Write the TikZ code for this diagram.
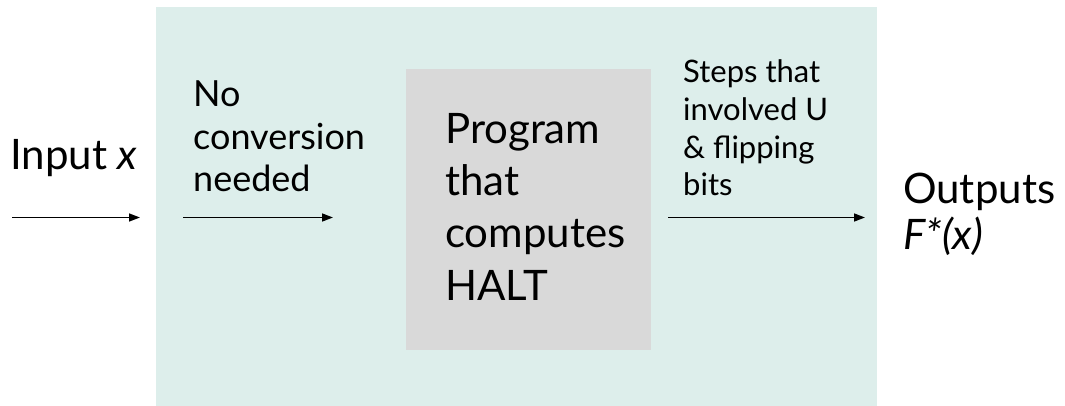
\documentclass[tikz,border=0pt]{standalone}
\usepackage{fontspec}
\setmainfont{Lato}
\usetikzlibrary{arrows.meta}
\definecolor{tealbg}{RGB}{221,238,235}
\definecolor{graybox}{RGB}{217,217,217}
\tikzset{
  big/.style={font=\fontsize{42}{52.3}\selectfont, inner sep=0pt, align=left, anchor=base west},
  bigout/.style={font=\fontsize{42}{46.5}\selectfont, inner sep=0pt, align=left, anchor=base west},
  mid/.style={font=\fontsize{36}{42.5}\selectfont, inner sep=0pt, align=left, anchor=base west},
  small/.style={font=\fontsize{31}{37.8}\selectfont, inner sep=0pt, align=left, anchor=base west},
  flow/.style={line width=1.5pt, -{Triangle[length=11pt,width=8pt]}}
}
\begin{document}
\begin{tikzpicture}[x=1pt,y=-1pt]
\useasboundingbox (0,0) rectangle (1065,406);
\fill[tealbg] (156,7) rectangle (877,406);
\fill[graybox] (406,69) rectangle (651,350);
\node[big] (input) at (10,170) {Input \textit{x}};
\node[mid] (noconv) at (193,192) {No\\conversion\\needed};
\node[big] (prog) at (445,300) {Program\\that\\computes\\HALT};
\node[small] (steps) at (683,196) {Steps that\\involved U\\\& flipping\\bits};
\node[bigout] (out) at (903,249.5) {Outputs\\\textit{F*(x)}};
\coordinate (a1) at (12,217.5);
\coordinate (a2) at (140,217.5);
\coordinate (b1) at (183,217.5);
\coordinate (b2) at (333,217.5);
\coordinate (c1) at (668,217.5);
\coordinate (c2) at (865,217.5);
\draw[flow] (a1) -- (a2);
\draw[flow] (b1) -- (b2);
\draw[flow] (c1) -- (c2);
\end{tikzpicture}
\end{document}
